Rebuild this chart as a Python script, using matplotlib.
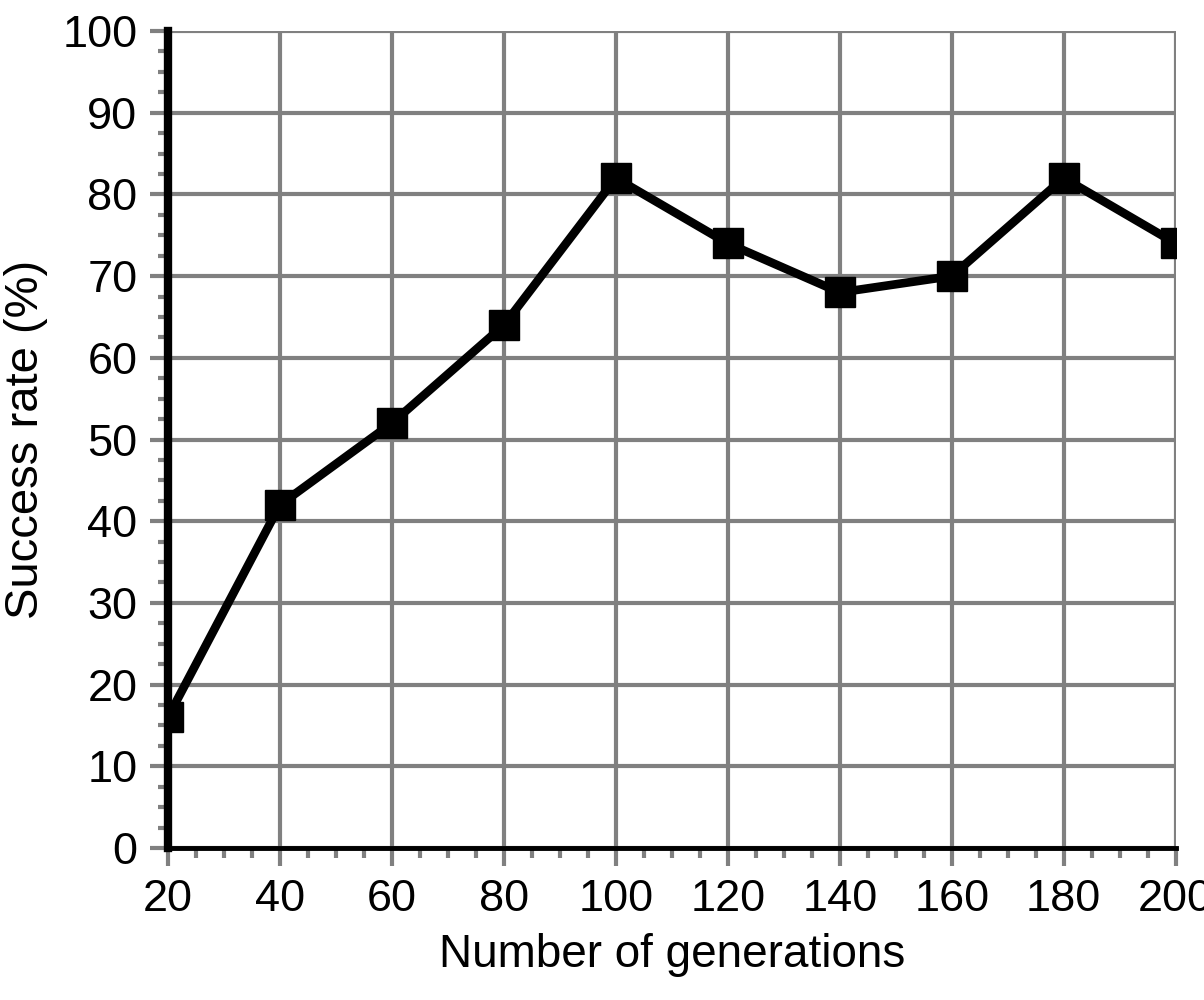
import matplotlib
matplotlib.use("Agg")
import matplotlib.pyplot as plt
from matplotlib.ticker import MultipleLocator

# values
generations = [20, 40, 60, 80, 100, 120, 140, 160, 180, 200]
success_rate = [16, 42, 52, 64, 82, 74, 68, 70, 82, 74]

plt.rcParams['font.family'] = ['Liberation Sans', 'DejaVu Sans']

fig = plt.figure(figsize=(12.04, 10), dpi=100)
ax = fig.add_axes([0.1395, 0.152, 0.837, 0.817])

grey = '#808080'
ax.plot(generations, success_rate, color='black', linewidth=6.2,
        marker='s', markersize=21, zorder=4)

ax.set_xlim(20, 200)
ax.set_ylim(0, 100)
ax.xaxis.set_major_locator(MultipleLocator(20))
ax.xaxis.set_minor_locator(MultipleLocator(5))
ax.yaxis.set_major_locator(MultipleLocator(10))
ax.yaxis.set_minor_locator(MultipleLocator(2.5))

ax.grid(True, which='major', color=grey, linewidth=3)
ax.set_axisbelow(True)
ax.tick_params(which='major', color=grey, width=3, length=13, labelsize=32.5, pad=9)
ax.tick_params(which='minor', color=grey, width=3, length=7)

for side in ['top', 'right']:
    ax.spines[side].set_visible(False)
ax.spines['left'].set_linewidth(6)
ax.spines['bottom'].set_linewidth(3.5)
ax.spines['left'].set_zorder(5)
ax.spines['bottom'].set_zorder(5)

ax.set_xlabel('Number of generations', fontsize=33, labelpad=10)
ax.set_ylabel('Success rate (%)', fontsize=34, labelpad=10)

fig.savefig('out.png', dpi=100)
